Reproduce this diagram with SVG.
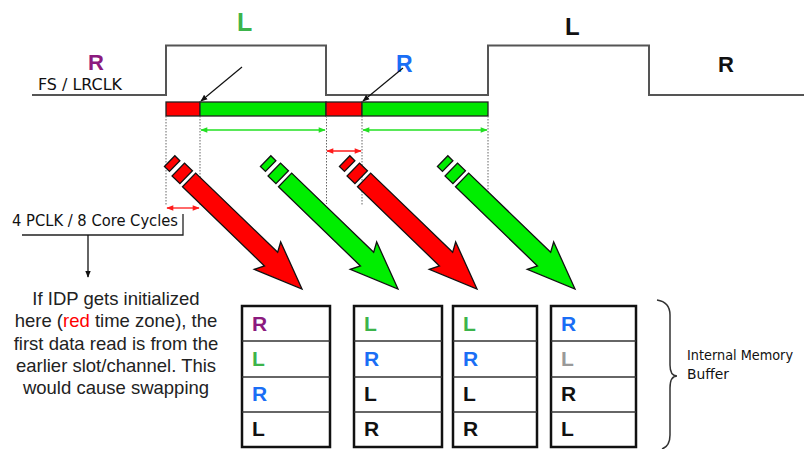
<svg xmlns="http://www.w3.org/2000/svg" width="804" height="449" viewBox="0 0 804 449">
<style>
.wave{fill:none;stroke:#555;stroke-width:2}
.dot{stroke:#666;stroke-width:1;stroke-dasharray:1.5,1.5}
.big{font-family:"Liberation Sans",Arial,sans-serif;font-weight:bold}
.cm{font-family:"DejaVu Sans","Liberation Sans",sans-serif;fill:#111}
.body{font-family:"Liberation Sans",Arial,sans-serif;font-size:18.5px;fill:#222;text-anchor:middle}
.box{fill:#fff;stroke:#111;stroke-width:2.5}
.row{stroke:#333;stroke-width:1.5}
.cell{font-family:"Liberation Sans",Arial,sans-serif;font-weight:bold;font-size:21px}
.arr{stroke:#111;stroke-width:1.3;stroke-linejoin:miter}
</style>
<defs>
<marker id="ah" viewBox="0 0 10 10" refX="9" refY="5" markerWidth="7" markerHeight="7" markerUnits="userSpaceOnUse" orient="auto"><path d="M0,1 L10,5 L0,9 Z" fill="#111"/></marker>
<marker id="rh" viewBox="0 0 10 10" refX="9" refY="5" markerWidth="8" markerHeight="7" markerUnits="userSpaceOnUse" orient="auto-start-reverse"><path d="M0,1 L10,5 L0,9 Z" fill="#ff1a1a"/></marker>
<marker id="gh" viewBox="0 0 10 10" refX="9" refY="5" markerWidth="8" markerHeight="7" markerUnits="userSpaceOnUse" orient="auto-start-reverse"><path d="M0,1 L10,5 L0,9 Z" fill="#22e022"/></marker>
<g id="fat">
<path d="M0,0 L-48,-19 L-43,-9.5 L-157,-9.5 L-157,9.5 L-43,9.5 L-48,19 Z"/>
<rect x="-172" y="-9" width="11" height="18"/>
<rect x="-184" y="-7.5" width="7" height="15"/>
</g>
</defs>

<g id="waveform">
<path class="wave" d="M32,95 H166 V45.5 H326 V95 H488 V45.5 H649 V95 H804"/>
</g>

<g id="labels">
<text class="big" x="237" y="31" font-size="25" fill="#3cb44b">L</text>
<text class="big" x="88" y="70" font-size="22" fill="#8b1a7e">R</text>
<text class="cm" x="38" y="90" font-size="15" textLength="84" lengthAdjust="spacingAndGlyphs">FS / LRCLK</text>
<text class="big" x="396" y="72" font-size="23" fill="#1a6ef5">R</text>
<text class="big" x="565" y="35" font-size="24" fill="#111">L</text>
<text class="big" x="718" y="72" font-size="22" fill="#111">R</text>
</g>

<g id="slot-bar">
<rect x="166" y="102" width="34" height="14" fill="#ff0000" stroke="#222" stroke-width="1.3"/>
<rect x="200" y="102" width="126" height="14" fill="#00e600" stroke="#222" stroke-width="1.3"/>
<rect x="326" y="102" width="36" height="14" fill="#ff0000" stroke="#222" stroke-width="1.3"/>
<rect x="362" y="102" width="126" height="14" fill="#00e600" stroke="#222" stroke-width="1.3"/>
</g>

<g id="connectors">
<line class="dot" x1="166" y1="116" x2="166" y2="205"/>
<line class="dot" x1="200" y1="116" x2="200" y2="205"/>
<line class="dot" x1="326.5" y1="116" x2="326.5" y2="204"/>
<line class="dot" x1="362" y1="116" x2="362" y2="206"/>
<line class="dot" x1="488" y1="116" x2="488" y2="206"/>
<line x1="201" y1="130" x2="325" y2="130" stroke="#22e022" stroke-width="1.3" marker-start="url(#gh)" marker-end="url(#gh)"/>
<line x1="363" y1="130" x2="487" y2="130" stroke="#22e022" stroke-width="1.3" marker-start="url(#gh)" marker-end="url(#gh)"/>
<line x1="327" y1="151" x2="361" y2="151" stroke="#ff1a1a" stroke-width="1.3" marker-start="url(#rh)" marker-end="url(#rh)"/>
<line x1="167" y1="208" x2="199" y2="208" stroke="#ff1a1a" stroke-width="1.3" marker-start="url(#rh)" marker-end="url(#rh)"/>
<line x1="242" y1="67" x2="201" y2="101" stroke="#111" stroke-width="1.2" marker-end="url(#ah)"/>
<line x1="403" y1="68" x2="363" y2="101" stroke="#111" stroke-width="1.2" marker-end="url(#ah)"/>
<path d="M183,214 V235 H22" fill="none" stroke="#222" stroke-width="1.3"/>
<line x1="88" y1="235" x2="88" y2="277" stroke="#111" stroke-width="1.3" marker-end="url(#ah)"/>
<use href="#fat" class="arr" fill="#ff0000" transform="translate(302,289) rotate(44)"/>
<use href="#fat" class="arr" fill="#00ee00" transform="translate(398,289) rotate(44)"/>
<use href="#fat" class="arr" fill="#ff0000" transform="translate(477,289) rotate(44)"/>
<use href="#fat" class="arr" fill="#00ee00" transform="translate(575,289) rotate(44)"/>
</g>

<g id="cycles-note">
<text class="cm" x="12" y="226" font-size="16" textLength="166" lengthAdjust="spacingAndGlyphs">4 PCLK / 8 Core Cycles</text>
</g>

<g id="explanation">
<text class="body" x="116" y="305">If IDP gets initialized</text>
<text class="body" x="116" y="327">here (<tspan fill="#ff0000">red</tspan> time zone), the</text>
<text class="body" x="116" y="350">first data read is from the</text>
<text class="body" x="116" y="372">earlier slot/channel. This</text>
<text class="body" x="116" y="394">would cause swapping</text>
</g>

<g id="buffer1">
<rect class="box" x="242" y="306" width="88" height="141"/>
<line class="row" x1="242" y1="341" x2="330" y2="341"/>
<line class="row" x1="242" y1="377" x2="330" y2="377"/>
<line class="row" x1="242" y1="412" x2="330" y2="412"/>
<text class="cell" x="252" y="331" fill="#8b1a7e">R</text>
<text class="cell" x="252" y="366" fill="#3cb44b">L</text>
<text class="cell" x="252" y="401" fill="#1a6ef5">R</text>
<text class="cell" x="252" y="436" fill="#111">L</text>
</g>

<g id="buffer2">
<rect class="box" x="354" y="306" width="88" height="141"/>
<line class="row" x1="354" y1="341" x2="442" y2="341"/>
<line class="row" x1="354" y1="377" x2="442" y2="377"/>
<line class="row" x1="354" y1="412" x2="442" y2="412"/>
<text class="cell" x="364" y="331" fill="#3cb44b">L</text>
<text class="cell" x="364" y="366" fill="#1a6ef5">R</text>
<text class="cell" x="364" y="401" fill="#111">L</text>
<text class="cell" x="364" y="436" fill="#111">R</text>
</g>

<g id="buffer3">
<rect class="box" x="453" y="306" width="84" height="141"/>
<line class="row" x1="453" y1="341" x2="537" y2="341"/>
<line class="row" x1="453" y1="377" x2="537" y2="377"/>
<line class="row" x1="453" y1="412" x2="537" y2="412"/>
<text class="cell" x="463" y="331" fill="#3cb44b">L</text>
<text class="cell" x="463" y="366" fill="#1a6ef5">R</text>
<text class="cell" x="463" y="401" fill="#111">L</text>
<text class="cell" x="463" y="436" fill="#111">R</text>
</g>

<g id="buffer4">
<rect class="box" x="551" y="306" width="85" height="141"/>
<line class="row" x1="551" y1="341" x2="636" y2="341"/>
<line class="row" x1="551" y1="377" x2="636" y2="377"/>
<line class="row" x1="551" y1="412" x2="636" y2="412"/>
<text class="cell" x="561" y="331" fill="#1a6ef5">R</text>
<text class="cell" x="561" y="366" fill="#999">L</text>
<text class="cell" x="561" y="401" fill="#111">R</text>
<text class="cell" x="561" y="436" fill="#111">L</text>
</g>

<g id="memory-label">
<path d="M657,300 Q670,302 670,315 V365 Q670,376 677,376 Q670,376 670,388 V435 Q670,446 662,449" fill="none" stroke="#333" stroke-width="1.5"/>
<text class="cm" x="687" y="360" font-size="14" textLength="106" lengthAdjust="spacingAndGlyphs">Internal Memory</text>
<text class="cm" x="687" y="379" font-size="14" textLength="42" lengthAdjust="spacingAndGlyphs">Buffer</text>
</g>
</svg>
